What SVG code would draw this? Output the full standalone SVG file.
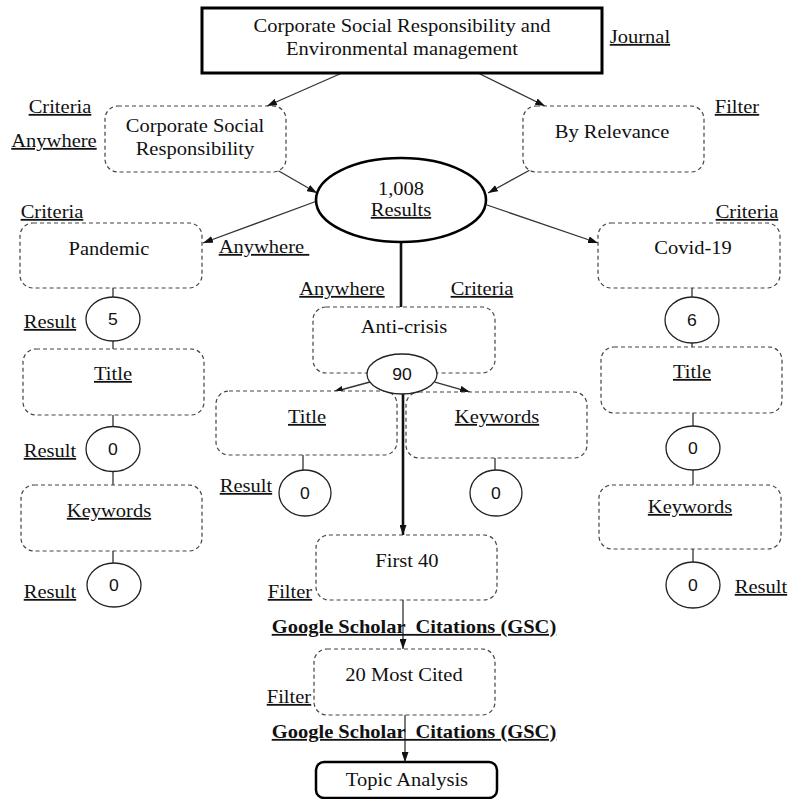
<svg xmlns="http://www.w3.org/2000/svg" width="789" height="799" viewBox="0 0 789 799">
<style>
.bg{fill:#fff}
.box{fill:#fff;stroke:#444;stroke-width:1.2;stroke-dasharray:4 3}
.solid{fill:#fff;stroke:#000;stroke-width:3}
.circ{fill:#fff;stroke:#222;stroke-width:1.3}
.oval{fill:#fff;stroke:#000;stroke-width:2.6}
.ln{fill:none;stroke:#333;stroke-width:1.3}
.thick{fill:none;stroke:#111;stroke-width:2.6}
.t{font-family:"Liberation Serif","Times New Roman",serif;font-size:18px;fill:#111;text-anchor:middle;transform-box:fill-box;transform-origin:center;transform:scaleX(1.14)}
.n{font-family:"Liberation Sans",Arial,sans-serif;font-size:16px;transform:scaleX(1.1)}
.u{text-decoration:underline}
.b{font-weight:bold}
</style>
<defs>
<marker id="ah" markerWidth="10" markerHeight="7" refX="10" refY="3.5" orient="auto" markerUnits="userSpaceOnUse">
<path d="M0,0 L10,3.5 L0,7 z" fill="#111"/>
</marker>
</defs>
<rect class="bg" x="0" y="0" width="789" height="799"/>

<g id="connectors">
<line class="ln" x1="342" y1="73" x2="267" y2="106" marker-end="url(#ah)"/>
<line class="ln" x1="478" y1="73" x2="545" y2="106" marker-end="url(#ah)"/>
<line class="ln" x1="277" y1="170" x2="317" y2="193" marker-end="url(#ah)"/>
<line class="ln" x1="530" y1="170" x2="488" y2="193" marker-end="url(#ah)"/>
<line class="ln" x1="317" y1="201" x2="203" y2="243" marker-end="url(#ah)"/>
<line class="ln" x1="487" y1="205" x2="598" y2="243" marker-end="url(#ah)"/>
<line class="thick" x1="401" y1="242" x2="401" y2="307"/>
<line class="ln" x1="370" y1="382" x2="333" y2="392" marker-end="url(#ah)"/>
<line class="ln" x1="435" y1="382" x2="470" y2="392" marker-end="url(#ah)"/>
<line class="thick" x1="403" y1="394" x2="403" y2="535" marker-end="url(#ah)"/>
<line class="ln" x1="403" y1="600" x2="403" y2="649" marker-end="url(#ah)"/>
<line class="ln" x1="405" y1="715" x2="405" y2="762" marker-end="url(#ah)"/>
<line class="ln" x1="113" y1="288" x2="113" y2="297"/>
<line class="ln" x1="113" y1="341" x2="113" y2="349"/>
<line class="ln" x1="113" y1="415" x2="113" y2="427"/>
<line class="ln" x1="113" y1="471" x2="113" y2="485"/>
<line class="ln" x1="113" y1="551" x2="113" y2="563"/>
<line class="ln" x1="692" y1="288" x2="692" y2="297"/>
<line class="ln" x1="692" y1="343" x2="692" y2="347"/>
<line class="ln" x1="693" y1="413" x2="693" y2="426"/>
<line class="ln" x1="693" y1="470" x2="693" y2="485"/>
<line class="ln" x1="693" y1="549" x2="693" y2="562"/>
<line class="ln" x1="303" y1="455" x2="303" y2="470"/>
<line class="ln" x1="495" y1="458" x2="495" y2="470"/>
</g>

<g id="n-journal">
<rect class="solid" x="202" y="8" width="400" height="65"/>
<text class="t" x="402" y="32">Corporate Social Responsibility and</text>
<text class="t" x="402" y="55">Environmental management</text>
</g>
<g id="n-csr">
<rect class="box" x="105" y="106" width="181" height="66" rx="13"/>
<text class="t" x="195" y="132">Corporate Social</text>
<text class="t" x="195" y="155">Responsibility</text>
</g>
<g id="n-relevance">
<rect class="box" x="523" y="106" width="181" height="66" rx="13"/>
<text class="t" x="612" y="138">By Relevance</text>
</g>
<g id="n-results">
<ellipse class="oval" cx="401" cy="200" rx="85" ry="42"/>
<text class="t" x="401" y="195">1,008</text>
<text class="t u" x="401" y="216">Results</text>
</g>
<g id="n-pandemic">
<rect class="box" x="20" y="223" width="182" height="65" rx="13"/>
<text class="t" x="109" y="255">Pandemic</text>
</g>
<g id="n-covid">
<rect class="box" x="598" y="223" width="182" height="65" rx="13"/>
<text class="t" x="693" y="254">Covid-19</text>
</g>
<g id="n-c5">
<ellipse class="circ" cx="113" cy="319" rx="27" ry="22"/>
<text class="t n" x="113" y="325">5</text>
</g>
<g id="n-c6">
<ellipse class="circ" cx="692" cy="320" rx="27" ry="23"/>
<text class="t n" x="692" y="326">6</text>
</g>
<g id="n-ltitle">
<rect class="box" x="23" y="349" width="181" height="66" rx="13"/>
<text class="t u" x="113" y="380">Title</text>
</g>
<g id="n-rtitle">
<rect class="box" x="601" y="347" width="181" height="66" rx="13"/>
<text class="t u" x="692" y="378">Title</text>
</g>
<g id="n-lc0a">
<ellipse class="circ" cx="113" cy="449" rx="27" ry="22.5"/>
<text class="t n" x="113" y="455">0</text>
</g>
<g id="n-rc0a">
<ellipse class="circ" cx="693" cy="448" rx="27" ry="22"/>
<text class="t n" x="693" y="454">0</text>
</g>
<g id="n-lkw">
<rect class="box" x="21" y="485" width="181" height="66" rx="13"/>
<text class="t u" x="109" y="517">Keywords</text>
</g>
<g id="n-rkw">
<rect class="box" x="599" y="485" width="182" height="64" rx="13"/>
<text class="t u" x="690" y="513">Keywords</text>
</g>
<g id="n-lc0b">
<ellipse class="circ" cx="114" cy="585" rx="27" ry="22"/>
<text class="t n" x="114" y="591">0</text>
</g>
<g id="n-rc0b">
<ellipse class="circ" cx="693" cy="585" rx="27" ry="23"/>
<text class="t n" x="693" y="591">0</text>
</g>
<g id="n-anticrisis">
<rect class="box" x="313" y="307" width="182" height="66" rx="13"/>
<text class="t" x="404" y="333">Anti-crisis</text>
</g>
<g id="n-mtitle">
<rect class="box" x="216" y="391" width="181" height="64" rx="13"/>
<text class="t u" x="307" y="423">Title</text>
</g>
<g id="n-mkw">
<rect class="box" x="406" y="392" width="181" height="66" rx="13"/>
<text class="t u" x="497" y="423">Keywords</text>
</g>
<g id="n-c90">
<ellipse class="circ" cx="402" cy="374" rx="35" ry="20"/>
<text class="t n" x="402" y="380">90</text>
</g>
<g id="n-mc0a">
<ellipse class="circ" cx="305" cy="493" rx="26" ry="23"/>
<text class="t n" x="305" y="499">0</text>
</g>
<g id="n-mc0b">
<ellipse class="circ" cx="496" cy="493" rx="26" ry="23"/>
<text class="t n" x="496" y="499">0</text>
</g>
<g id="n-first40">
<rect class="box" x="316" y="535" width="181" height="65" rx="13"/>
<text class="t" x="407" y="567">First 40</text>
</g>
<g id="n-most">
<rect class="box" x="314" y="649" width="181" height="66" rx="13"/>
<text class="t" x="404" y="681">20 Most Cited</text>
</g>
<g id="n-topic">
<rect class="solid" x="316" y="762" width="181" height="36" rx="8" style="stroke-width:2.5"/>
<text class="t" x="407" y="786">Topic Analysis</text>
</g>

<g id="labels">
<text class="t u" x="640" y="43">Journal</text>
<text class="t u" x="60" y="113">Criteria</text>
<text class="t u" x="54" y="147">Anywhere</text>
<text class="t u" x="737" y="113">Filter</text>
<text class="t u" x="52" y="218">Criteria</text>
<text class="t u" x="264" y="253" style="white-space:pre">Anywhere </text>
<text class="t u" x="747" y="218">Criteria</text>
<text class="t u" x="342" y="295">Anywhere</text>
<text class="t u" x="482" y="295">Criteria</text>
<text class="t u" x="50" y="328">Result</text>
<text class="t u" x="50" y="457">Result</text>
<text class="t u" x="50" y="598">Result</text>
<text class="t u" x="246" y="492">Result</text>
<text class="t u" x="761" y="593">Result</text>
<text class="t u" x="290" y="598">Filter</text>
<text class="t u b" x="414" y="633" style="white-space:pre">Google Scholar  Citations (GSC)</text>
<text class="t u" x="289" y="703">Filter</text>
<text class="t u b" x="414" y="738" style="white-space:pre">Google Scholar  Citations (GSC)</text>
</g>
</svg>
